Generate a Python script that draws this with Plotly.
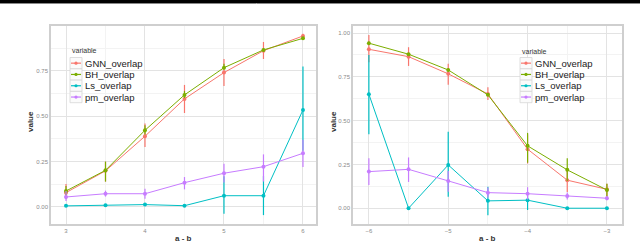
import plotly.graph_objects as go

# ---------------- data ----------------
series_names = ["GNN_overlap", "BH_overlap", "Ls_overlap", "pm_overlap"]
colors = ["#F8766D", "#7CAE00", "#00BFC4", "#C77CFF"]

# left panel
x_left = [3.0, 3.5, 4.0, 4.5, 5.0, 5.5, 6.0]
left_gnn = [0.079, 0.199, 0.39, 0.596, 0.741, 0.862, 0.943]
left_gnn_lo = [0.044, 0.14, 0.33, 0.518, 0.667, 0.816, 0.935]
left_gnn_hi = [0.127, 0.25, 0.46, 0.673, 0.816, 0.91, 0.955]
left_bh = [0.088, 0.202, 0.423, 0.618, 0.768, 0.866, 0.93]
left_bh_lo = [0.061, 0.14, 0.40, 0.60, 0.76, 0.855, 0.925]
left_bh_hi = [0.116, 0.25, 0.45, 0.64, 0.79, 0.875, 0.935]
left_ls = [0.006, 0.009, 0.013, 0.007, 0.062, 0.062, 0.535]
left_ls_lo = [0.004, 0.007, 0.009, 0.005, -0.037, -0.045, 0.31]
left_ls_hi = [0.008, 0.011, 0.017, 0.009, 0.17, 0.17, 0.774]
left_pm = [0.055, 0.073, 0.073, 0.134, 0.186, 0.222, 0.296]
left_pm_lo = [0.033, 0.057, 0.045, 0.097, 0.135, 0.14, 0.22]
left_pm_hi = [0.088, 0.09, 0.10, 0.165, 0.238, 0.29, 0.37]

# right panel
x_right = [-6.0, -5.5, -5.0, -4.5, -4.0, -3.5, -3.0]
right_gnn = [0.907, 0.865, 0.767, 0.652, 0.337, 0.16, 0.108]
right_gnn_lo = [0.833, 0.812, 0.704, 0.618, 0.255, 0.093, 0.066]
right_gnn_hi = [0.989, 0.919, 0.824, 0.69, 0.422, 0.213, 0.14]
right_bh = [0.942, 0.879, 0.789, 0.647, 0.356, 0.219, 0.104]
right_bh_lo = [0.935, 0.872, 0.78, 0.64, 0.26, 0.156, 0.066]
right_bh_hi = [0.95, 0.886, 0.798, 0.655, 0.43, 0.285, 0.14]
right_ls = [0.651, 0.0, 0.247, 0.042, 0.046, 0.0, 0.0]
right_ls_lo = [0.422, 0.0, 0.065, -0.04, -0.01, 0.0, 0.0]
right_ls_hi = [0.875, 0.0, 0.437, 0.123, 0.07, 0.0, 0.0]
right_pm = [0.209, 0.222, 0.156, 0.089, 0.083, 0.07, 0.057]
right_pm_lo = [0.133, 0.15, 0.094, 0.061, 0.05, 0.05, 0.045]
right_pm_hi = [0.285, 0.29, 0.213, 0.118, 0.12, 0.09, 0.07]

left_ticks = [3, 4, 5, 6]
right_ticks = [-6, -5, -4, -3]
y_ticks = [0.0, 0.25, 0.5, 0.75, 1.0]
y_tick_text = ["0.00", "0.25", "0.50", "0.75", "1.00"]
legend_title = "variable"
x_title = "a - b"
y_title = "value"

FONT = "Liberation Sans, Arial, sans-serif"
W, H = 640, 242

fig = go.Figure()

left_sets = [(left_gnn, left_gnn_lo, left_gnn_hi), (left_bh, left_bh_lo, left_bh_hi),
             (left_ls, left_ls_lo, left_ls_hi), (left_pm, left_pm_lo, left_pm_hi)]
right_sets = [(right_gnn, right_gnn_lo, right_gnn_hi), (right_bh, right_bh_lo, right_bh_hi),
              (right_ls, right_ls_lo, right_ls_hi), (right_pm, right_pm_lo, right_pm_hi)]

for xs, sets, xa, ya in [(x_left, left_sets, "x", "y"), (x_right, right_sets, "x2", "y2")]:
    for name, col, (v, lo, hi) in zip(series_names, colors, sets):
        fig.add_trace(go.Scatter(
            x=xs, y=v, name=name, mode="lines+markers", showlegend=False,
            line=dict(color=col, width=1),
            marker=dict(color=col, size=4),
            error_y=dict(type="data", symmetric=False,
                         array=[h - a for h, a in zip(hi, v)],
                         arrayminus=[a - l for a, l in zip(v, lo)],
                         color=col, thickness=1.2, width=0),
            xaxis=xa, yaxis=ya,
        ))

ydom = [1 - 224 / H, 1 - 26 / H]
axis_common = dict(
    showline=True, mirror=True, linecolor="#CFCFCF", linewidth=1.5,
    showgrid=True, gridcolor="#E3E3E3", gridwidth=0.8,
    ticks="", tickfont=dict(family=FONT, size=6, color="#8A8A8A"),
    zeroline=False,
)
minor = dict(showgrid=True, gridcolor="#F3F3F3", gridwidth=0.6)

shapes = [dict(type="rect", xref="paper", yref="paper", x0=0, x1=1,
               y0=1 - 3 / H, y1=1, fillcolor="black", line=dict(width=0)),
          dict(type="line", xref="paper", yref="paper", x0=0, x1=1,
               y0=1 - 3.5 / H, y1=1 - 3.5 / H, line=dict(color="#888888", width=1))]
annotations = []

# manual legends (ggplot style, compact spacing)
def add_legend(x_key, title_y, top):
    key_w, key_h = 12, 11.3
    annotations.append(dict(text=legend_title, xref="paper", yref="paper",
                            x=x_key / W, y=1 - title_y / H, xanchor="left", yanchor="middle",
                            showarrow=False, font=dict(family=FONT, size=7, color="#333333")))
    for i, (name, col) in enumerate(zip(series_names, colors)):
        y0 = top + i * key_h
        cy = y0 + key_h / 2
        shapes.append(dict(type="rect", xref="paper", yref="paper",
                           x0=x_key / W, x1=(x_key + key_w) / W,
                           y0=1 - (y0 + key_h) / H, y1=1 - y0 / H,
                           fillcolor="#FBFBFB", line=dict(color="#D6D6D6", width=0.8)))
        shapes.append(dict(type="line", xref="paper", yref="paper",
                           x0=(x_key + 1) / W, x1=(x_key + key_w - 1) / W,
                           y0=1 - cy / H, y1=1 - cy / H, line=dict(color=col, width=1.2)))
        shapes.append(dict(type="circle", xref="paper", yref="paper",
                           x0=(x_key + key_w / 2 - 1.6) / W, x1=(x_key + key_w / 2 + 1.6) / W,
                           y0=1 - (cy + 1.6) / H, y1=1 - (cy - 1.6) / H,
                           fillcolor=col, line=dict(width=0)))
        annotations.append(dict(text=name, xref="paper", yref="paper",
                                x=(x_key + key_w + 1) / W, y=1 - cy / H,
                                xanchor="left", yanchor="middle", showarrow=False,
                                font=dict(family=FONT, size=9.5, color="#1A1A1A")))

add_legend(70, 51, 57.5)
add_legend(520, 51.5, 57.5)

# axis titles
for cx in [(51 + 316) / 2, (353 + 622) / 2]:
    annotations.append(dict(text="<b>%s</b>" % x_title, xref="paper", yref="paper",
                            x=cx / W, y=1 - 238 / H, xanchor="center", yanchor="middle",
                            showarrow=False, font=dict(family=FONT, size=8, color="#333333")))
for vx in [30, 333]:
    annotations.append(dict(text="<b>%s</b>" % y_title, xref="paper", yref="paper",
                            x=vx / W, y=1 - 122 / H, xanchor="center", yanchor="middle",
                            textangle=-90, showarrow=False,
                            font=dict(family=FONT, size=8, color="#333333")))

fig.update_layout(
    width=W, height=H,
    margin=dict(l=0, r=0, t=0, b=0),
    paper_bgcolor="white", plot_bgcolor="white",
    font=dict(family=FONT),
    xaxis=dict(domain=[51 / W, 316 / W], range=[2.81, 6.165], tickvals=left_ticks,
               minor=dict(dtick=0.5, **minor), anchor="y", **axis_common),
    yaxis=dict(domain=ydom, range=[-0.094, 0.998], tickvals=y_ticks, ticktext=y_tick_text,
               minor=dict(dtick=0.125, **minor), anchor="x", **axis_common),
    xaxis2=dict(domain=[353 / W, 622 / W], range=[-6.2, -2.81], tickvals=right_ticks,
                minor=dict(dtick=0.5, **minor), anchor="y2", **axis_common),
    yaxis2=dict(domain=ydom, range=[-0.09, 1.04], tickvals=y_ticks, ticktext=y_tick_text,
                minor=dict(dtick=0.125, **minor), anchor="x2", **axis_common),
    shapes=shapes,
    annotations=annotations,
)

fig.write_html("out.html", config={"displayModeBar": False},
               post_script="document.body.style.margin='0';document.body.style.overflow='hidden';")
